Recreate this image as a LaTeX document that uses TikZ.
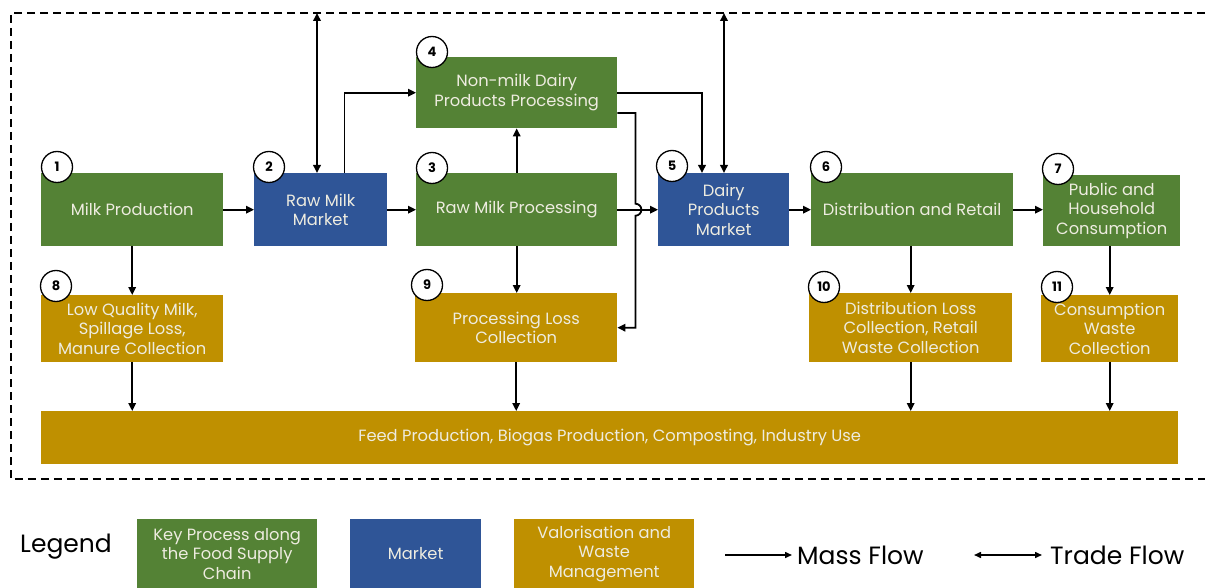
\documentclass[tikz,border=0pt]{standalone}
\usepackage{fontspec}
\setmainfont{Poppins}
\usetikzlibrary{arrows.meta,calc}
\definecolor{kgreen}{HTML}{548235}
\definecolor{kblue}{HTML}{2F5597}
\definecolor{kgold}{HTML}{BF9000}
\definecolor{ktext}{RGB}{238,236,224}
\tikzset{
  box/.style={fill=#1, text=ktext, align=center, anchor=north west, inner sep=1pt,
    font=\fontsize{16.3}{19.5}\selectfont},
  num/.style={circle, draw=black, line width=1.3pt, fill=white, minimum size=31pt,
    inner sep=0pt, font=\fontsize{13}{13}\selectfont\bfseries},
  flow/.style={line width=1.8pt, -{Triangle[length=8pt,width=7.5pt]}},
  trade/.style={line width=1.8pt, {Triangle[length=8pt,width=7.5pt]}-{Triangle[length=8pt,width=7.5pt]}},
  lgtext/.style={font=\fontsize{25}{25}\selectfont, text=black, inner sep=0pt},
}
\begin{document}
\begin{tikzpicture}[x=1pt,y=-1pt]
\useasboundingbox (0,0) rectangle (1205,588);
% system boundary
\draw[line width=1.8pt, dash pattern=on 8pt off 5pt] (1205,13) -- (11,13) -- (11,479) -- (1205,479);
\coordinate (topA) at (317,13);
\coordinate (topB) at (724,13);

% boxes
\node[box=kgreen, minimum width=182pt, minimum height=73pt] (n1) at (41,173) {Milk Production};
\node[box=kblue, minimum width=133pt, minimum height=73pt] (n2) at (254,173) {Raw Milk\\Market};
\node[box=kgreen, minimum width=201pt, minimum height=73pt] (n3) at (416,173) {Raw Milk Processing};
\node[box=kgreen, minimum width=201pt, minimum height=71pt] (n4) at (416,57) {Non-milk Dairy\\Products Processing};
\node[box=kblue, minimum width=131pt, minimum height=73pt] (n5) at (658,173) {Dairy\\Products\\Market};
\node[box=kgreen, minimum width=202pt, minimum height=73pt] (n6) at (811,173) {Distribution and Retail};
\node[box=kgreen, minimum width=137pt, minimum height=71pt] (n7) at (1043,175) {Public and\\Household\\Consumption};
\node[box=kgold, minimum width=182pt, minimum height=67pt] (n8) at (41,295) {Low Quality Milk,\\Spillage Loss,\\Manure Collection};
\node[box=kgold, minimum width=202pt, minimum height=69pt] (n9) at (415,293) {Processing Loss\\Collection};
\node[box=kgold, minimum width=203pt, minimum height=69pt] (n10) at (809,293) {Distribution Loss\\Collection, Retail\\Waste Collection};
\node[box=kgold, minimum width=137pt, minimum height=67pt] (n11) at (1041,295) {Consumption\\Waste\\Collection};
\node[box=kgold, minimum width=1137pt, minimum height=53pt] (feed) at (41,411) {Feed Production, Biogas Production, Composting, Industry Use};

% number circles
\node[num] (c1) at (57,167) {1};
\node[num] (c2) at (269,167) {2};
\node[num] (c3) at (432,168) {3};
\node[num] (c4) at (432,52) {4};
\node[num] (c5) at (672,166) {5};
\node[num] (c6) at (826,167) {6};
\node[num] (c7) at (1058,169) {7};
\node[num] (c8) at (56,286) {8};
\node[num] (c9) at (427,285) {9};
\node[num] (c10) at (824,287) {10};
\node[num] (c11) at (1057,287) {11};

% main chain
\draw[flow] (n1.east) -- (n2.west);
\draw[flow] (n2.east) -- (n3.west);
\draw[flow] (n3.east) -- (n5.west);
\draw[flow] (n5.east) -- (n6.west);
\draw[flow] (n6.east) -- (n7.west |- n6.east);
% trade flows
\draw[trade] (n2.north -| topA) -- (topA);
\draw[trade] (n5.north -| topB) -- (topB);
% raw milk market to non-milk processing
\draw[flow] ($(n2.north east)+(-43,0)$) |- (n4.west);
\draw[flow] (n3.north) -- (n4.south);
% non-milk processing to dairy market
\draw[flow] ($(n4.north east)+(0,36)$) -| ($(n5.north west)+(44,0)$);
% non-milk processing to processing loss (with hop)
\draw[flow] ($(n4.north east)+(0,56)$) -- ++(18,0) -- ($(n3.east)+(18,-6)$)
  arc[start angle=90, end angle=-90, radius=6pt] -- ($(n9.east)+(18,0)$) -- (n9.east);
% losses
\draw[flow] (n1.south -| n8.south) -- (n8.north);
\draw[flow] (n8.south) -- (feed.north -| n8.south);
\draw[flow] (n3.south) -- (n9.north -| n3.south);
\draw[flow] (n9.south) -- (feed.north -| n9.south);
\draw[flow] (n6.south -| n10.south) -- (n10.north);
\draw[flow] (n10.south) -- (feed.north -| n10.south);
\draw[flow] (n7.south -| n11.south) -- (n11.north);
\draw[flow] (n11.south) -- (feed.north -| n11.south);

% legend
\node[lgtext, anchor=west] (lg) at (20,547) {Legend};
\node[box=kgreen, minimum width=180pt, minimum height=69pt] (l1) at (137,519) {Key Process along\\the Food Supply\\Chain};
\node[box=kblue, minimum width=131pt, minimum height=69pt] (l2) at (350,519) {Market};
\node[box=kgold, minimum width=180pt, minimum height=69pt] (l3) at (514,519) {Valorisation and\\Waste\\Management};
\coordinate (m1) at (725,555);
\coordinate (m2) at (792,555);
\draw[line width=1.5pt, -{Triangle[length=7pt,width=6pt]}] (m1) -- (m2);
\node[lgtext, anchor=west] (mf) at (797,555) {Mass Flow};
\coordinate (t1) at (974,555);
\coordinate (t2) at (1042,555);
\draw[line width=1.5pt, {Triangle[length=7pt,width=6pt]}-{Triangle[length=7pt,width=6pt]}] (t1) -- (t2);
\node[lgtext, anchor=west] (tf) at (1050,555) {Trade Flow};
\end{tikzpicture}
\end{document}
